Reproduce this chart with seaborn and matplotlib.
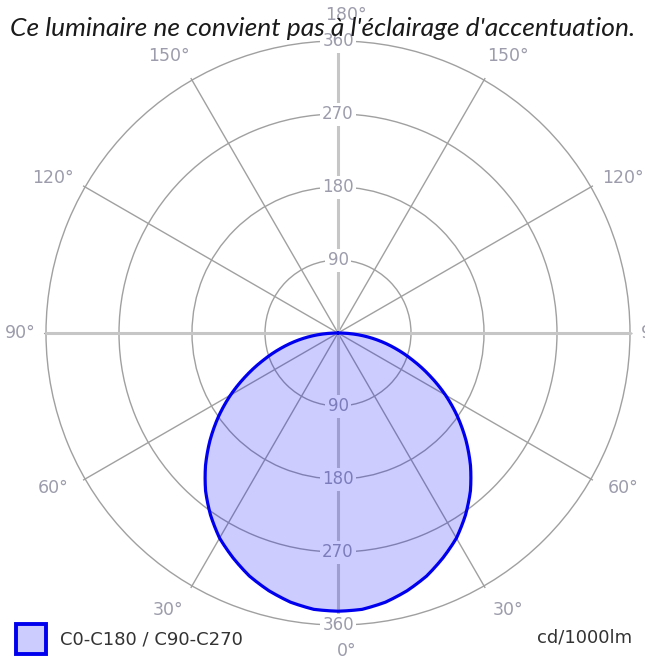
import numpy as np
import seaborn as sns
import matplotlib.pyplot as plt
from matplotlib.patches import Rectangle

# Luminous intensity (cd/1000lm) versus gamma angle
gamma = [0, 5, 10, 15, 20, 25, 30, 35, 40, 45, 50, 55, 60, 65, 70, 75, 80, 85, 90]
intensity = [343, 342, 337, 329, 319, 306, 292, 274, 254, 231, 206, 180, 153,
             125, 98, 73, 49, 25, 0]

ring_values = [90, 180, 270, 360]
angle_ticks = [0, 30, 60, 90, 120, 150, 180]

title = "Ce luminaire ne convient pas à l'éclairage d'accentuation."
legend_label = "C0-C180 / C90-C270"
unit_label = "cd/1000lm"

sns.set_style("white")
plt.rcParams['font.family'] = ['DejaVu Sans']

# mirror the half curve (C0-C180 and C90-C270 are identical)
g_full = [-g for g in gamma[::-1]] + gamma[1:]
i_full = intensity[::-1] + intensity[1:]
theta = np.deg2rad(g_full)

W, H = 645, 664
fig = plt.figure(figsize=(W / 100, H / 100), dpi=100)
rmax = 363
cx, cy, rad = 338, 333, 292 * rmax / 360
ax = fig.add_axes([(cx - rad) / W, (H - cy - rad) / H, 2 * rad / W, 2 * rad / H],
                  projection='polar')
ax.set_theta_zero_location('S')
ax.set_ylim(0, rmax)
ax.set_rgrids(ring_values, labels=[''] * len(ring_values))
ax.set_thetagrids(range(0, 360, 30), labels=[''] * 12)
ax.grid(True, color='#a0a0a0', lw=1.0)
ax.spines['polar'].set_visible(False)
ax.set_facecolor('none')

# main axes drawn lighter and wider
for a in [0, 90, 180, 270]:
    ax.plot([np.deg2rad(a)] * 2, [0, 360], color='#c6c6c6', lw=2.2, zorder=1.6)

label_col = '#9c9cac'
for v in ring_values:
    for th in (0, np.pi):
        ax.text(th, v, str(v), ha='center', va='center', fontsize=12,
                color=label_col, zorder=3,
                bbox=dict(boxstyle='square,pad=0.15', fc='white', ec='none'))

for a in angle_ticks:
    sides = [1] if a in (0, 180) else [1, -1]
    shift = 1.5 if a < 90 else (-1.5 if a > 90 else 0)
    r_lab = 392 if a in (0, 90, 180) else 400
    for s in sides:
        ax.text(np.deg2rad(s * (a + shift)), r_lab, f"{a}°", ha='center',
                va='center', fontsize=12.5, color=label_col, clip_on=False,
                zorder=3)

poly = ax.fill(theta, i_full, color=(0, 0, 1, 0.2), lw=0, zorder=4)[0]
sns.lineplot(x=theta, y=i_full, sort=False, ax=ax, color='#0000ee', lw=2.3,
             legend=False, zorder=5)
# let the polar transform draw each segment as a curve, not a chord
poly.get_path()._interpolation_steps = 12
ax.lines[-1].get_path()._interpolation_steps = 12
ax.set_xlabel('')
ax.set_ylabel('')

fig.text(0.5, 1 - 28 / H, title, ha='center', va='center', fontsize=19,
         style='italic', family=['Lato', 'DejaVu Sans'], color='#1a1a1a', zorder=10)

fig.patches.append(Rectangle((16 / W, 1 - 654 / H), 30 / W, 30 / H,
                             transform=fig.transFigure, fc='#ccccff',
                             ec='#0000ee', lw=2.8))
fig.text(60 / W, 1 - 640 / H, legend_label, ha='left', va='center',
         fontsize=13, color='#333333')
fig.text(632 / W, 1 - 638 / H, unit_label, ha='right', va='center',
         fontsize=13, color='#333333')

fig.savefig('out.png', dpi=100)
